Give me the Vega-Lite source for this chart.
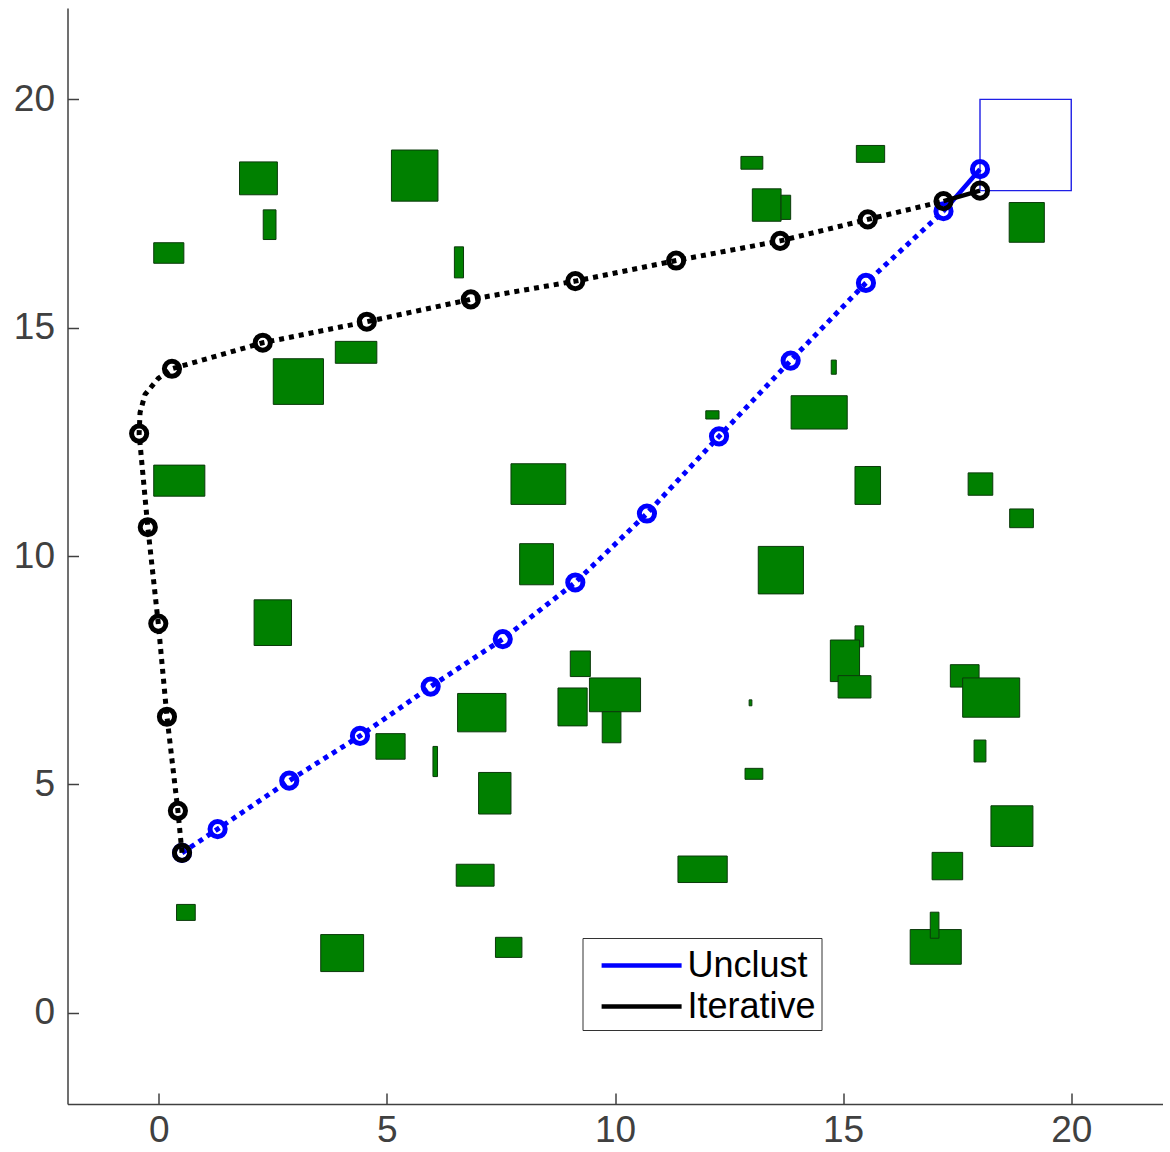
{
  "$schema": "https://vega.github.io/schema/vega-lite/v6.json",
  "width": 1095,
  "height": 1096,
  "autosize": {"type": "none"},
  "padding": {"left": 67.5, "top": 8, "right": 7.5, "bottom": 48},
  "background": "white",
  "config": {
    "view": {"stroke": null},
    "font": "Liberation Sans",
    "axis": {
      "grid": false,
      "tickCount": 5,
      "domainColor": "#404040",
      "domainWidth": 1.5,
      "tickColor": "#404040",
      "tickWidth": 1.5,
      "tickSize": -11,
      "labelFont": "Liberation Sans",
      "labelFontSize": 37,
      "labelColor": "#404040"
    },
    "axisX": {"labelPadding": 19},
    "axisY": {"labelPadding": 24},
    "legend": {
      "orient": "none",
      "legendX": 515,
      "legendY": 930,
      "strokeColor": "#333333",
      "fillColor": "white",
      "padding": 5,
      "symbolType": "M-0.42,0H3.58",
      "symbolSize": 1600,
      "symbolStrokeWidth": 4.5,
      "labelFont": "Liberation Sans",
      "labelFontSize": 36,
      "labelColor": "#000000",
      "labelOffset": 55,
      "rowPadding": -1
    }
  },
  "datasets": {
    "obstacles": [
      {"x1": 1.77, "x2": 2.60, "y1": 17.91, "y2": 18.63},
      {"x1": 2.29, "x2": 2.57, "y1": 16.93, "y2": 17.58},
      {"x1": -0.11, "x2": 0.55, "y1": 16.41, "y2": 16.86},
      {"x1": 5.10, "x2": 6.12, "y1": 17.77, "y2": 18.89},
      {"x1": 3.87, "x2": 4.78, "y1": 14.22, "y2": 14.70},
      {"x1": 2.51, "x2": 3.61, "y1": 13.32, "y2": 14.32},
      {"x1": 6.48, "x2": 6.68, "y1": 16.09, "y2": 16.77},
      {"x1": 12.76, "x2": 13.24, "y1": 18.47, "y2": 18.75},
      {"x1": 13.01, "x2": 13.64, "y1": 17.33, "y2": 18.04},
      {"x1": 13.64, "x2": 13.85, "y1": 17.37, "y2": 17.90},
      {"x1": 15.29, "x2": 15.91, "y1": 18.62, "y2": 18.99},
      {"x1": 18.64, "x2": 19.41, "y1": 16.87, "y2": 17.74},
      {"x1": 14.74, "x2": 14.85, "y1": 13.98, "y2": 14.29},
      {"x1": 13.86, "x2": 15.09, "y1": 12.78, "y2": 13.51},
      {"x1": -0.11, "x2": 1.01, "y1": 11.31, "y2": 11.99},
      {"x1": 2.09, "x2": 2.91, "y1": 8.04, "y2": 9.04},
      {"x1": 4.76, "x2": 5.40, "y1": 5.55, "y2": 6.11},
      {"x1": 11.99, "x2": 12.28, "y1": 13.00, "y2": 13.18},
      {"x1": 7.72, "x2": 8.92, "y1": 11.13, "y2": 12.02},
      {"x1": 7.91, "x2": 8.65, "y1": 9.37, "y2": 10.27},
      {"x1": 13.14, "x2": 14.13, "y1": 9.17, "y2": 10.21},
      {"x1": 9.02, "x2": 9.46, "y1": 7.36, "y2": 7.92},
      {"x1": 8.75, "x2": 9.39, "y1": 6.28, "y2": 7.11},
      {"x1": 9.44, "x2": 10.56, "y1": 6.59, "y2": 7.33},
      {"x1": 9.72, "x2": 10.13, "y1": 5.91, "y2": 6.59},
      {"x1": 6.55, "x2": 7.61, "y1": 6.15, "y2": 6.99},
      {"x1": 6.01, "x2": 6.11, "y1": 5.17, "y2": 5.83},
      {"x1": 12.94, "x2": 13.00, "y1": 6.72, "y2": 6.85},
      {"x1": 12.85, "x2": 13.24, "y1": 5.11, "y2": 5.35},
      {"x1": 7.01, "x2": 7.72, "y1": 4.35, "y2": 5.26},
      {"x1": 15.26, "x2": 15.82, "y1": 11.13, "y2": 11.96},
      {"x1": 17.74, "x2": 18.28, "y1": 11.33, "y2": 11.82},
      {"x1": 18.65, "x2": 19.17, "y1": 10.62, "y2": 11.03},
      {"x1": 15.26, "x2": 15.45, "y1": 8.01, "y2": 8.47},
      {"x1": 14.72, "x2": 15.36, "y1": 7.25, "y2": 8.16},
      {"x1": 14.89, "x2": 15.61, "y1": 6.89, "y2": 7.38},
      {"x1": 17.35, "x2": 17.98, "y1": 7.13, "y2": 7.62},
      {"x1": 17.62, "x2": 18.87, "y1": 6.47, "y2": 7.33},
      {"x1": 17.87, "x2": 18.13, "y1": 5.49, "y2": 5.97},
      {"x1": 0.39, "x2": 0.80, "y1": 2.02, "y2": 2.37},
      {"x1": 3.55, "x2": 4.49, "y1": 0.90, "y2": 1.71},
      {"x1": 6.52, "x2": 7.35, "y1": 2.77, "y2": 3.25},
      {"x1": 7.38, "x2": 7.96, "y1": 1.21, "y2": 1.65},
      {"x1": 11.38, "x2": 12.46, "y1": 2.85, "y2": 3.43},
      {"x1": 18.24, "x2": 19.16, "y1": 3.64, "y2": 4.53},
      {"x1": 16.95, "x2": 17.62, "y1": 2.91, "y2": 3.51},
      {"x1": 16.47, "x2": 17.59, "y1": 1.06, "y2": 1.82},
      {"x1": 16.91, "x2": 17.10, "y1": 1.63, "y2": 2.20}
    ],
    "goal": [
      {"x1": 18, "x2": 20, "y1": 18, "y2": 20}
    ],
    "paths": [
      {"method": "Unclust", "step": 1, "x": 0.51, "y": 3.50, "marker": true, "tail": false, "final": false},
      {"method": "Unclust", "step": 2, "x": 1.29, "y": 4.02, "marker": true, "tail": false, "final": false},
      {"method": "Unclust", "step": 3, "x": 2.86, "y": 5.08, "marker": true, "tail": false, "final": false},
      {"method": "Unclust", "step": 4, "x": 4.41, "y": 6.06, "marker": true, "tail": false, "final": false},
      {"method": "Unclust", "step": 5, "x": 5.96, "y": 7.14, "marker": true, "tail": false, "final": false},
      {"method": "Unclust", "step": 6, "x": 7.54, "y": 8.18, "marker": true, "tail": false, "final": false},
      {"method": "Unclust", "step": 7, "x": 9.13, "y": 9.42, "marker": true, "tail": false, "final": false},
      {"method": "Unclust", "step": 8, "x": 10.70, "y": 10.93, "marker": true, "tail": false, "final": false},
      {"method": "Unclust", "step": 9, "x": 12.28, "y": 12.62, "marker": true, "tail": false, "final": false},
      {"method": "Unclust", "step": 10, "x": 13.85, "y": 14.28, "marker": true, "tail": false, "final": false},
      {"method": "Unclust", "step": 11, "x": 15.50, "y": 15.98, "marker": true, "tail": false, "final": false},
      {"method": "Unclust", "step": 12, "x": 17.20, "y": 17.55, "marker": true, "tail": true, "final": false},
      {"method": "Unclust", "step": 13, "x": 18.00, "y": 18.47, "marker": true, "tail": true, "final": true},
      {"method": "Iterative", "step": 1, "x": 0.51, "y": 3.50, "marker": true, "tail": false, "final": false},
      {"method": "Iterative", "step": 2, "x": 0.42, "y": 4.42, "marker": true, "tail": false, "final": false},
      {"method": "Iterative", "step": 3, "x": 0.18, "y": 6.48, "marker": true, "tail": false, "final": false},
      {"method": "Iterative", "step": 4, "x": -0.01, "y": 8.52, "marker": true, "tail": false, "final": false},
      {"method": "Iterative", "step": 5, "x": -0.24, "y": 10.63, "marker": true, "tail": false, "final": false},
      {"method": "Iterative", "step": 6, "x": -0.43, "y": 12.68, "marker": true, "tail": false, "final": false},
      {"method": "Iterative", "step": 7, "x": -0.41, "y": 13.14, "marker": false, "tail": false, "final": false},
      {"method": "Iterative", "step": 8, "x": -0.30, "y": 13.54, "marker": false, "tail": false, "final": false},
      {"method": "Iterative", "step": 9, "x": -0.15, "y": 13.72, "marker": false, "tail": false, "final": false},
      {"method": "Iterative", "step": 10, "x": -0.01, "y": 13.89, "marker": false, "tail": false, "final": false},
      {"method": "Iterative", "step": 11, "x": 0.29, "y": 14.10, "marker": true, "tail": false, "final": false},
      {"method": "Iterative", "step": 12, "x": 2.28, "y": 14.67, "marker": true, "tail": false, "final": false},
      {"method": "Iterative", "step": 13, "x": 4.56, "y": 15.13, "marker": true, "tail": false, "final": false},
      {"method": "Iterative", "step": 14, "x": 6.84, "y": 15.62, "marker": true, "tail": false, "final": false},
      {"method": "Iterative", "step": 15, "x": 9.13, "y": 16.02, "marker": true, "tail": false, "final": false},
      {"method": "Iterative", "step": 16, "x": 11.34, "y": 16.47, "marker": true, "tail": false, "final": false},
      {"method": "Iterative", "step": 17, "x": 13.62, "y": 16.90, "marker": true, "tail": false, "final": false},
      {"method": "Iterative", "step": 18, "x": 15.54, "y": 17.37, "marker": true, "tail": false, "final": false},
      {"method": "Iterative", "step": 19, "x": 17.20, "y": 17.77, "marker": true, "tail": true, "final": false},
      {"method": "Iterative", "step": 20, "x": 18.00, "y": 18.00, "marker": true, "tail": true, "final": true}
    ]
  },
  "layer": [
    {
      "data": {"name": "obstacles"},
      "mark": {"type": "rect", "fill": "#008000", "stroke": "#0b3a0b", "strokeWidth": 1},
      "encoding": {
        "x": {"field": "x1", "type": "quantitative", "title": null, "scale": {"domain": [-2, 22], "nice": false, "zero": false}},
        "x2": {"field": "x2"},
        "y": {"field": "y1", "type": "quantitative", "title": null, "scale": {"domain": [-2, 22], "nice": false, "zero": false}},
        "y2": {"field": "y2"}
      }
    },
    {
      "data": {"name": "goal"},
      "mark": {"type": "rect", "fillOpacity": 0, "stroke": "#1f1fe6", "strokeWidth": 1.4},
      "encoding": {
        "x": {"field": "x1", "type": "quantitative"},
        "x2": {"field": "x2"},
        "y": {"field": "y1", "type": "quantitative"},
        "y2": {"field": "y2"}
      }
    },
    {
      "data": {"name": "paths"},
      "transform": [{"filter": "datum.method === 'Unclust' && !datum.final"}],
      "mark": {"type": "line", "color": "#0000ff", "strokeWidth": 5, "strokeDash": [5, 5], "strokeCap": "butt"},
      "encoding": {
        "x": {"field": "x", "type": "quantitative"},
        "y": {"field": "y", "type": "quantitative"},
        "order": {"field": "step"}
      }
    },
    {
      "data": {"name": "paths"},
      "transform": [{"filter": "datum.method === 'Unclust' && datum.tail"}],
      "mark": {"type": "line", "strokeWidth": 4.5},
      "encoding": {
        "x": {"field": "x", "type": "quantitative"},
        "y": {"field": "y", "type": "quantitative"},
        "order": {"field": "step"},
        "color": {
          "field": "method", "type": "nominal",
          "scale": {"domain": ["Unclust", "Iterative"], "range": ["#0000ff", "#000000"]},
          "legend": {"title": null}
        }
      }
    },
    {
      "data": {"name": "paths"},
      "transform": [{"filter": "datum.method === 'Unclust' && datum.marker"}],
      "mark": {"type": "point", "shape": "circle", "filled": false, "color": "#0000ff", "size": 230, "strokeWidth": 5, "opacity": 1},
      "encoding": {
        "x": {"field": "x", "type": "quantitative"},
        "y": {"field": "y", "type": "quantitative"}
      }
    },
    {
      "data": {"name": "paths"},
      "transform": [{"filter": "datum.method === 'Iterative' && !datum.final"}],
      "mark": {"type": "line", "color": "#000000", "strokeWidth": 5, "strokeDash": [5, 5], "strokeCap": "butt"},
      "encoding": {
        "x": {"field": "x", "type": "quantitative"},
        "y": {"field": "y", "type": "quantitative"},
        "order": {"field": "step"}
      }
    },
    {
      "data": {"name": "paths"},
      "transform": [{"filter": "datum.method === 'Iterative' && datum.tail"}],
      "mark": {"type": "line", "strokeWidth": 4.5},
      "encoding": {
        "x": {"field": "x", "type": "quantitative"},
        "y": {"field": "y", "type": "quantitative"},
        "order": {"field": "step"},
        "color": {"field": "method", "type": "nominal", "legend": {"title": null}}
      }
    },
    {
      "data": {"name": "paths"},
      "transform": [{"filter": "datum.method === 'Iterative' && datum.marker"}],
      "mark": {"type": "point", "shape": "circle", "filled": false, "color": "#000000", "size": 230, "strokeWidth": 5, "opacity": 1},
      "encoding": {
        "x": {"field": "x", "type": "quantitative"},
        "y": {"field": "y", "type": "quantitative"}
      }
    }
  ]
}
